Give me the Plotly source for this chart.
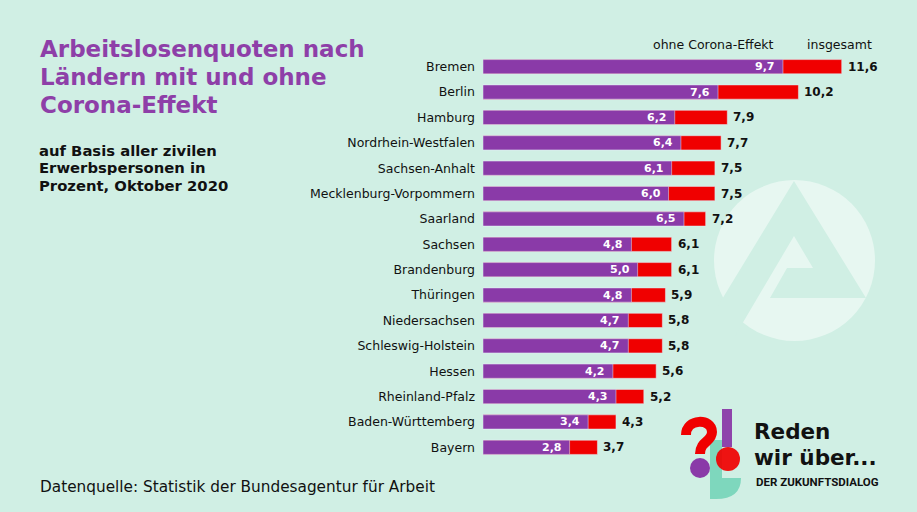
import plotly.graph_objects as go

laender = ["Bremen", "Berlin", "Hamburg", "Nordrhein-Westfalen", "Sachsen-Anhalt",
           "Mecklenburg-Vorpommern", "Saarland", "Sachsen", "Brandenburg", "Thüringen",
           "Niedersachsen", "Schleswig-Holstein", "Hessen", "Rheinland-Pfalz",
           "Baden-Württemberg", "Bayern"]
ohne_corona = [9.7, 7.6, 6.2, 6.4, 6.1, 6.0, 6.5, 4.8, 5.0, 4.8, 4.7, 4.7, 4.2, 4.3, 3.4, 2.8]
insgesamt = [11.6, 10.2, 7.9, 7.7, 7.5, 7.5, 7.2, 6.1, 6.1, 5.9, 5.8, 5.8, 5.6, 5.2, 4.3, 3.7]

title_lines = ["Arbeitslosenquoten nach", "Ländern mit und ohne", "Corona-Effekt"]
subtitle_lines = ["auf Basis aller zivilen", "Erwerbspersonen in", "Prozent, Oktober 2020"]

W, H = 917, 512
L, R, T, B = 483, 32, 54, 52
PW, PH = W - L - R, H - T - B

BG = "#d0efe4"
PURPLE = "#8a3aa8"
RED = "#f00000"
FONT = "DejaVu Sans"


def px(x):
    return (x - L) / PW


def py(y):
    return (H - B - y) / PH


def fmt(v):
    return f"{v:.1f}".replace(".", ",")


fig = go.Figure()
fig.add_trace(go.Bar(y=laender, x=insgesamt, orientation="h", marker_color=RED,
                     width=0.56, hoverinfo="skip", showlegend=False))
fig.add_trace(go.Bar(y=laender, x=ohne_corona, orientation="h", marker_color=PURPLE,
                     width=0.56, hoverinfo="skip", showlegend=False))

ann = []
for c, o, t in zip(laender, ohne_corona, insgesamt):
    ann.append(dict(x=o, y=c, xref="x", yref="y", text=fmt(o), showarrow=False,
                    xanchor="right", xshift=-6,
                    font=dict(family=FONT, size=11, color="white", weight="bold")))
    ann.append(dict(x=t, y=c, xref="x", yref="y", text=fmt(t), showarrow=False,
                    xanchor="left", xshift=4,
                    font=dict(family=FONT, size=12, color="#111111", weight="bold")))

# headers
ann.append(dict(x=px(776), y=py(45), xref="paper", yref="paper", text="ohne Corona-Effekt",
                showarrow=False, xanchor="right", yanchor="middle",
                font=dict(family=FONT, size=12.5, color="#111111")))
ann.append(dict(x=px(839), y=py(45), xref="paper", yref="paper", text="insgesamt",
                showarrow=False, xanchor="center", yanchor="middle",
                font=dict(family=FONT, size=12.5, color="#111111")))

# title
for i, line in enumerate(title_lines):
    ann.append(dict(x=px(38), y=py(49 + 28 * i), xref="paper", yref="paper",
                    text=line, showarrow=False, xanchor="left", yanchor="middle",
                    font=dict(family=FONT, size=23, color="#8e3fa8", weight="bold")))
# subtitle
for i, line in enumerate(subtitle_lines):
    ann.append(dict(x=px(38), y=py(150 + 17.7 * i), xref="paper", yref="paper",
                    text=line, showarrow=False, xanchor="left", yanchor="middle",
                    height=15, borderpad=0,
                    font=dict(family=FONT, size=14.8, color="#111111", weight="bold")))
# source
ann.append(dict(x=px(38), y=py(487), xref="paper", yref="paper",
                text="Datenquelle: Statistik der Bundesagentur für Arbeit",
                showarrow=False, xanchor="left", yanchor="middle",
                font=dict(family=FONT, size=15.3, color="#111111")))
# logo text
ann.append(dict(x=px(753), y=py(431), xref="paper", yref="paper", text="Reden",
                showarrow=False, xanchor="left", yanchor="middle", height=20, borderpad=0,
                font=dict(family=FONT, size=21.5, color="#111111", weight="bold")))
ann.append(dict(x=px(753), y=py(456.5), xref="paper", yref="paper", text="wir über...",
                showarrow=False, xanchor="left", yanchor="middle", height=20, borderpad=0,
                font=dict(family=FONT, size=21.5, color="#111111", weight="bold")))
ann.append(dict(x=px(754), y=py(482), xref="paper", yref="paper", text="DER ZUKUNFTSDIALOG",
                showarrow=False, xanchor="left", yanchor="middle",
                font=dict(family="Roboto", size=11.5, color="#111111", weight="bold")))


def path(points, close=True):
    s = "M " + " L ".join(f"{px(a):.5f},{py(b):.5f}" for a, b in points)
    return s + (" Z" if close else "")


shapes = []
# watermark circle
shapes.append(dict(type="circle", xref="paper", yref="paper",
                   x0=px(714), x1=px(875), y0=py(341), y1=py(180),
                   fillcolor="#e7f7f1", line_width=0, layer="below"))
shapes.append(dict(type="path", xref="paper", yref="paper",
                   path=path([(794, 181), (866, 298), (770, 298), (787, 268), (813, 268),
                              (794, 236), (735, 336), (713, 314)]),
                   fillcolor=BG, line_width=0, layer="below"))

# logo shapes
shapes.append(dict(type="path", xref="paper", yref="paper",
                   path=(f"M {px(710):.5f},{py(440):.5f} L {px(722):.5f},{py(440):.5f} "
                         f"L {px(722):.5f},{py(478):.5f} L {px(741):.5f},{py(478):.5f} "
                         f"Q {px(741):.5f},{py(499):.5f} {px(716):.5f},{py(499):.5f} "
                         f"L {px(710):.5f},{py(499):.5f} Z"),
                   fillcolor="#7ed7bd", line_width=0, layer="above"))
shapes.append(dict(type="path", xref="paper", yref="paper",
                   path=(f"M {px(686):.5f},{py(435):.5f} "
                         f"C {px(686):.5f},{py(418):.5f} {px(712):.5f},{py(418):.5f} {px(712):.5f},{py(432):.5f} "
                         f"C {px(712):.5f},{py(442):.5f} {px(700):.5f},{py(441):.5f} {px(700):.5f},{py(454):.5f}"),
                   line=dict(color=RED, width=10), layer="above"))
shapes.append(dict(type="rect", xref="paper", yref="paper",
                   x0=px(722), x1=px(732), y0=py(447), y1=py(409),
                   fillcolor=PURPLE, line_width=0, opacity=0.95, layer="above"))
shapes.append(dict(type="circle", xref="paper", yref="paper",
                   x0=px(716), x1=px(740), y0=py(471), y1=py(447),
                   fillcolor=RED, line_width=0, opacity=0.92, layer="above"))
shapes.append(dict(type="circle", xref="paper", yref="paper",
                   x0=px(690), x1=px(710), y0=py(478), y1=py(458),
                   fillcolor=PURPLE, line_width=0, layer="above"))

fig.update_layout(
    width=W, height=H,
    margin=dict(l=L, r=R, t=T, b=B),
    paper_bgcolor=BG, plot_bgcolor="rgba(0,0,0,0)",
    barmode="overlay",
    xaxis=dict(range=[0, 13], visible=False, fixedrange=True),
    yaxis=dict(range=[15.5, -0.5], showgrid=False, zeroline=False, showline=False,
               ticks="", ticklabelstandoff=7, fixedrange=True,
               tickfont=dict(family=FONT, size=12.5, color="#111111")),
    annotations=ann,
    shapes=shapes,
)

fig.write_html("out.html", config={"displayModeBar": False},
               post_script="document.body.style.margin='0';document.body.style.background='#d0efe4';")
